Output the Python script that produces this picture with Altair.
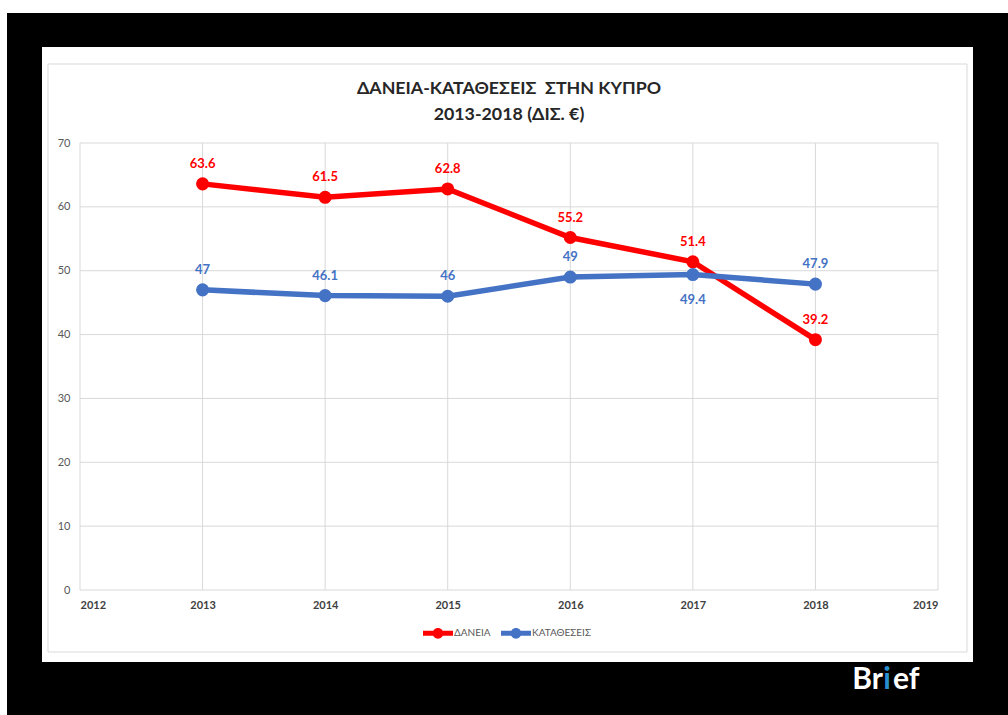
import altair as alt
import pandas as pd

years = [2013, 2014, 2015, 2016, 2017, 2018]
loans = [63.6, 61.5, 62.8, 55.2, 51.4, 39.2]
deposits = [47, 46.1, 46, 49, 49.4, 47.9]
series_names = ["ΔΑΝΕΙΑ", "ΚΑΤΑΘΕΣΕΙΣ"]
series_colors = ["#ff0000", "#4472c4"]
x_ticks = [2012, 2013, 2014, 2015, 2016, 2017, 2018, 2019]
y_ticks = [0, 10, 20, 30, 40, 50, 60, 70]
title_lines = ["ΔΑΝΕΙΑ-ΚΑΤΑΘΕΣΕΙΣ\u00a0 ΣΤΗΝ ΚΥΠΡΟ", "2013-2018 (ΔΙΣ. €)"]

FONT = "Lato, 'Noto Sans', sans-serif"

rows = []
for y, v in zip(years, loans):
    rows.append({"year": y, "value": v, "series": series_names[0]})
for y, v in zip(years, deposits):
    rows.append({"year": y, "value": v, "series": series_names[1]})
df = pd.DataFrame(rows)

W, H = 858, 447
PL, PT = 80, 143

xscale = alt.Scale(domain=[2012, 2019], nice=False, zero=False)
yscale = alt.Scale(domain=[0, 70], nice=False)
color = alt.Color(
    "series:N",
    scale=alt.Scale(domain=series_names, range=series_colors),
    legend=alt.Legend(
        title=None, orient="none", direction="horizontal",
        legendX=343, legendY=475,
        symbolType="M-1,-0.17H1V0.17H-1Z M0.36,0 A0.36,0.36 0 1,1 -0.36,0 A0.36,0.36 0 1,1 0.36,0Z",
        symbolSize=900, symbolStrokeWidth=0,
        labelFont=FONT, labelFontSize=10, labelColor="#595959",
        labelOffset=1, columnPadding=10, zindex=1,
    ),
)

# background decorations
bg_black = alt.Chart(pd.DataFrame({"a": [0]})).mark_rect(color="#000000").encode(
    x=alt.value(7 - PL), x2=alt.value(1008 - PL), y=alt.value(13 - PT), y2=alt.value(715 - PT)
)
bg_white = alt.Chart(pd.DataFrame({"a": [0]})).mark_rect(color="#ffffff").encode(
    x=alt.value(42 - PL), x2=alt.value(973 - PL), y=alt.value(47 - PT), y2=alt.value(662 - PT)
)
bg_border = alt.Chart(pd.DataFrame({"a": [0]})).mark_rect(
    filled=False, stroke="#d9d9d9", strokeWidth=1
).encode(
    x=alt.value(48 - PL), x2=alt.value(967 - PL), y=alt.value(64 - PT), y2=alt.value(652 - PT)
)

grid_x = alt.Chart(pd.DataFrame({"t": x_ticks})).mark_rule(color="#d9d9d9", strokeWidth=1).encode(
    x=alt.X("t:Q", scale=xscale)
)
grid_y = alt.Chart(pd.DataFrame({"t": y_ticks})).mark_rule(color="#d9d9d9", strokeWidth=1).encode(
    y=alt.Y("t:Q", scale=yscale)
)

base = alt.Chart(df).encode(
    x=alt.X("year:Q", scale=xscale,
            axis=alt.Axis(values=x_ticks, format="d", title=None, grid=False, domain=False,
                          ticks=False, labelFont=FONT, labelFontSize=11, labelFontWeight="bold",
                          labelColor="#404040", labelPadding=9, zindex=1)),
    y=alt.Y("value:Q", scale=yscale,
            axis=alt.Axis(values=y_ticks, title=None, grid=False, domain=False, ticks=False,
                          labelFont=FONT, labelFontSize=11, labelColor="#595959",
                          labelPadding=10, zindex=1)),
    color=color,
)

lines = base.mark_line(strokeWidth=5.5)
points = base.mark_circle(size=170, opacity=1)

lbl_above = base.mark_text(font=FONT, fontSize=13, fontWeight="bold", dy=-20).encode(
    text=alt.Text("value:Q")
).transform_filter("!(datum.series == 'ΚΑΤΑΘΕΣΕΙΣ' && datum.year == 2017)")
lbl_below = base.mark_text(font=FONT, fontSize=13, fontWeight="bold", dy=25).encode(
    text=alt.Text("value:Q")
).transform_filter("datum.series == 'ΚΑΤΑΘΕΣΕΙΣ' && datum.year == 2017")

logo_src = pd.DataFrame({"a": [0]})
logo1 = alt.Chart(logo_src).mark_text(text="Br", font=FONT, fontSize=30, fontWeight="bold",
                                      color="#ffffff", align="right", baseline="middle").encode(
    x=alt.value(883 - PL), y=alt.value(680 - PT))
logo2 = alt.Chart(logo_src).mark_text(text="i", font=FONT, fontSize=30, fontWeight="bold",
                                      color="#2a8fd0", align="center", baseline="middle").encode(
    x=alt.value(887 - PL), y=alt.value(680 - PT))
logo3 = alt.Chart(logo_src).mark_text(text="ef", font=FONT, fontSize=30, fontWeight="bold",
                                      color="#ffffff", align="left", baseline="middle").encode(
    x=alt.value(893 - PL), y=alt.value(680 - PT))

chart = alt.layer(
    bg_black, bg_white, bg_border, grid_x, grid_y, lines, points, lbl_above, lbl_below,
    logo1, logo2, logo3,
).properties(
    width=W, height=H,
    padding={"left": PL, "top": PT, "right": 1008 - PL - W, "bottom": 715 - PT - H},
    autosize=alt.AutoSizeParams(type="none"),
    title=alt.TitleParams(text=title_lines, font=FONT, fontSize=17.8, fontWeight="bold",
                          color="#262626", anchor="middle", offset=0, dy=111,
                          lineHeight=26, zindex=1),
).configure(background="#ffffff").configure_view(stroke=None)

chart.save("out.html", embed_options={"renderer": "svg", "actions": False})
